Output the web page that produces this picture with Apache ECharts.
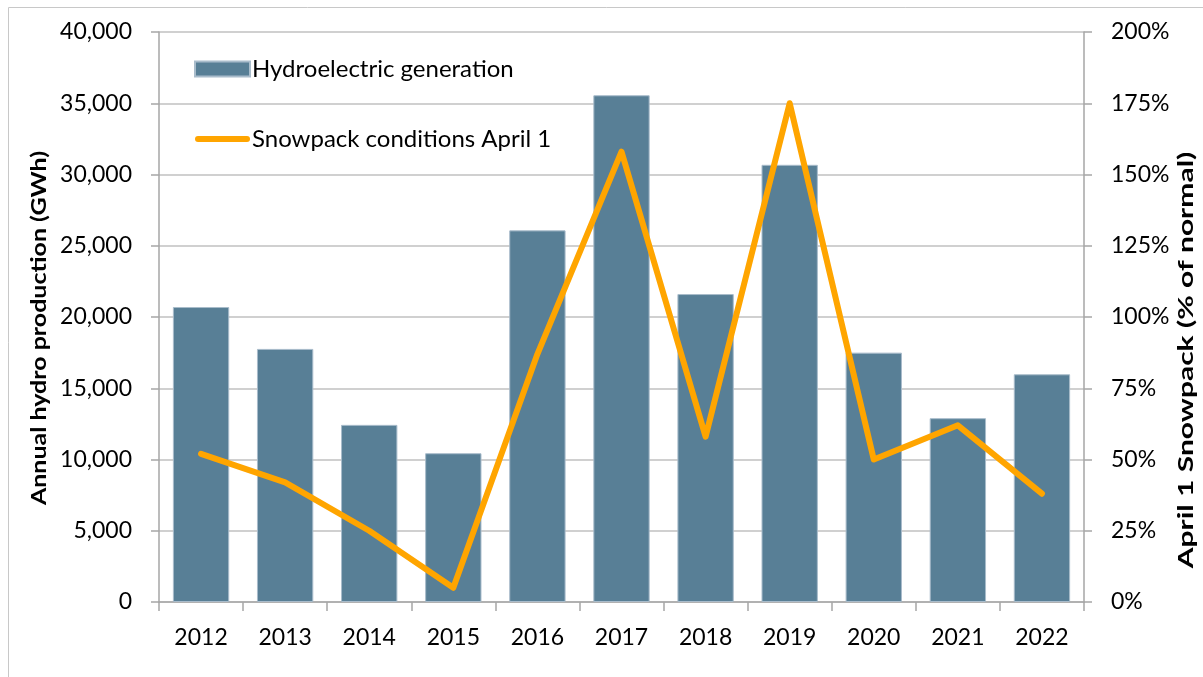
<!DOCTYPE html>
<html>
<head>
<meta charset="utf-8">
<script src="https://cdn.jsdelivr.net/npm/echarts@6/dist/echarts.min.js"></script>
<style>
  html, body { margin: 0; padding: 0; background: #fff; }
  #chart { width: 1203px; height: 677px; }
</style>
</head>
<body>
<div id="chart"></div>
<script>
const years = ['2012', '2013', '2014', '2015', '2016', '2017', '2018', '2019', '2020', '2021', '2022']
// annual hydro production, GWh
const hydroGen = [20700, 17760, 12430, 10440, 26080, 35560, 21610, 30680, 17500, 12900, 15980]
// April 1 snowpack, % of normal
const snowpack = [52, 42, 25, 5, 87, 158, 58, 175, 50, 62, 38]

const font = 'Lato, "Liberation Sans", sans-serif'
const gridColor = '#c0c0c0'
const axisColor = '#a6a6a6'
const lineIcon = 'path://M3,0 H52 A3,3 0 0 1 52,6 H3 A3,3 0 0 1 3,0 Z'

const chart = echarts.init(document.getElementById('chart'))

const option = {
  animation: false,
  textStyle: { fontFamily: font },
  graphic: [
    {
      type: 'rect',
      shape: { x: 8.5, y: 7.5, width: 1400, height: 900 },
      style: { fill: 'none', stroke: '#c8c8c8', lineWidth: 1 },
      silent: true,
      z: -10
    },
    // axis titles (stretched along their length like the original)
    {
      type: 'text',
      x: 40, y: 328,
      rotation: Math.PI / 2,
      scaleX: 1.25,
      style: {
        text: 'Annual hydro production (GWh)',
        font: 'bold 20px ' + font,
        fill: '#000',
        textAlign: 'center',
        textVerticalAlign: 'middle'
      }
    },
    {
      type: 'text',
      x: 1187, y: 360,
      rotation: Math.PI / 2,
      scaleX: 1.5,
      style: {
        text: 'April 1 Snowpack (% of normal)',
        font: 'bold 20px ' + font,
        fill: '#000',
        textAlign: 'center',
        textVerticalAlign: 'middle'
      }
    }
  ],
  grid: { left: 159, right: 119, top: 32, bottom: 75 },
  legend: {
    orient: 'vertical',
    left: 194,
    top: 57,
    padding: 0,
    itemGap: 46,
    itemWidth: 55,
    itemHeight: 15,
    textStyle: { fontFamily: font, fontSize: 24, color: '#000', padding: [0, 0, 0, -3] },
    data: [
      { name: 'Hydroelectric generation', icon: 'rect' },
      { name: 'Snowpack conditions April 1', icon: lineIcon }
    ]
  },
  xAxis: {
    type: 'category',
    data: years,
    axisLine: { lineStyle: { color: axisColor, width: 1.5 } },
    axisTick: { show: true, length: 9, lineStyle: { color: axisColor, width: 1.5 } },
    axisLabel: { color: '#000', fontSize: 23, margin: 24, fontFamily: font }
  },
  yAxis: [
    {
      type: 'value',
      min: 0,
      max: 40000,
      interval: 5000,
      axisLine: { show: true, lineStyle: { color: axisColor, width: 1.5 } },
      axisTick: { show: true, length: 8, lineStyle: { color: axisColor, width: 1.5 } },
      axisLabel: {
        color: '#000', fontSize: 23, margin: 27, fontFamily: font,
        formatter: v => v.toLocaleString('en-US')
      },
      splitLine: { lineStyle: { color: gridColor, width: 1.5 } }
    },
    {
      type: 'value',
      position: 'right',
      min: 0,
      max: 200,
      interval: 25,
      axisLine: { show: true, lineStyle: { color: axisColor, width: 1.5 } },
      axisTick: { show: true, length: 8, lineStyle: { color: axisColor, width: 1.5 } },
      axisLabel: { color: '#000', fontSize: 23, margin: 27, fontFamily: font, formatter: '{value}%' },
      splitLine: { show: false }
    }
  ],
  series: [
    {
      name: 'Hydroelectric generation',
      type: 'bar',
      data: hydroGen,
      barCategoryGap: '33%',
      itemStyle: { color: '#587f96', borderColor: '#a9bccb', borderWidth: 1 }
    },
    {
      name: 'Snowpack conditions April 1',
      type: 'line',
      yAxisIndex: 1,
      data: snowpack,
      symbol: 'none',
      itemStyle: { color: '#ffa500' },
      lineStyle: { color: '#ffa500', width: 6, cap: 'round', join: 'round' }
    }
  ]
}

chart.setOption(option)
</script>
</body>
</html>
